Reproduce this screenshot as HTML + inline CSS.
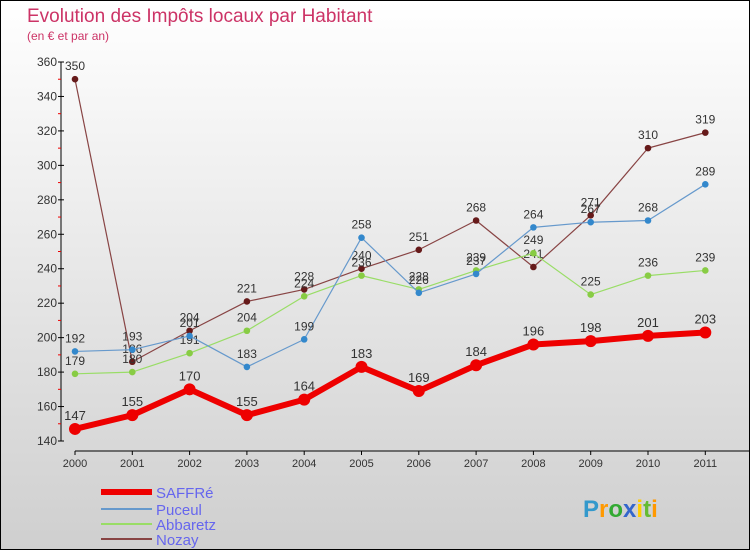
<!DOCTYPE html>
<html><head><meta charset="utf-8"><style>
body{margin:0}
#c{width:748px;height:548px;border:1px solid #000;background:linear-gradient(#ffffff,#cfcfcf);position:relative;overflow:hidden;font-family:"Liberation Sans",sans-serif}
</style></head><body>
<div id="c">
<svg id="s" width="748" height="548"></svg>
</div>
<script>
const years=["2000","2001","2002","2003","2004","2005","2006","2007","2008","2009","2010","2011"];
const saffre=[147,155,170,155,164,183,169,184,196,198,201,203];
const puceul=[192,193,201,183,199,258,226,237,264,267,268,289];
const abbaretz=[179,180,191,204,224,236,228,239,249,225,236,239];
const nozay=[350,186,204,221,228,240,251,268,241,271,310,319];
const yTicks=[140,160,180,200,220,240,260,280,300,320,340,360];
const series=[
 {name:"SAFFRé",data:saffre,color:"#ee0000",w:6,r:6,lab:"#333",fs:13},
 {name:"Puceul",data:puceul,color:"#6699cc",w:1.2,r:3.3,pc:"#3388cc",lab:"#333",fs:12},
 {name:"Abbaretz",data:abbaretz,color:"#99dd66",w:1.2,r:3.3,pc:"#88cc44",lab:"#333",fs:12},
 {name:"Nozay",data:nozay,color:"#884444",w:1.2,r:3.3,pc:"#661a1a",lab:"#333",fs:12}
];
const NS="http://www.w3.org/2000/svg",s=document.getElementById('s');
const X=i=>74+i*57.3, Y=v=>440-(v-140)*(379/220);
function el(t,a,txt){const e=document.createElementNS(NS,t);for(const k in a)e.setAttribute(k,a[k]);if(txt!=null)e.textContent=txt;s.appendChild(e);return e;}
let e;
e=el('text',{x:26,y:21,fill:"#cc3366","font-size":19},"Evolution des Impôts locaux par Habitant");

e=el('text',{x:26,y:39,fill:"#cc3366","font-size":12},"(en € et par an)");

e=el('line',{x1:60,y1:Y(360),x2:60,y2:Y(140),stroke:"#000"});

yTicks.forEach((v,i)=>{
 el('line',{x1:57,x2:63,y1:Y(v),y2:Y(v),stroke:"#000"});
 if(i<yTicks.length-1)el('line',{x1:57,x2:60,y1:Y(v+10),y2:Y(v+10),stroke:"#e00"});
 e=el('text',{x:56,y:Y(v)+4,"text-anchor":"end","font-size":12,fill:"#333"},v);
 
});
e=el('line',{x1:X(0),y1:450,x2:748,y2:450,stroke:"#000"});

years.forEach((y,i)=>{
 el('line',{x1:X(i),x2:X(i),y1:450,y2:454,stroke:"#000"});
 e=el('text',{x:X(i),y:466,"text-anchor":"middle","font-size":11,fill:"#333"},y);
 
});
[...series].reverse().forEach(sr=>{
 e=el('polyline',{points:sr.data.map((v,i)=>X(i)+","+Y(v)).join(" "),fill:"none",stroke:sr.color,"stroke-width":sr.w,"stroke-linejoin":"round"});
 
 sr.data.forEach((v,i)=>{
  e=el('circle',{cx:X(i),cy:Y(v),r:sr.r,fill:sr.pc||sr.color});
  
  e=el('text',{x:X(i),y:Y(v)-9,"text-anchor":"middle","font-size":sr.fs,fill:sr.lab},v);
  
 });
});
series.forEach((sr,i)=>{
 const ly=[491,508,523,538][i];
 e=el('line',{x1:100,x2:151,y1:ly,y2:ly,stroke:sr.color,"stroke-width":sr.w==6?6:2});
 
 e=el('text',{x:155,y:ly+6,"font-size":15,fill:"#6666ee"},sr.name);
 
});
const logo=[["P","#3399cc"],["r","#ff9900"],["o","#33aa33"],["x","#3366cc"],["i","#ffcc00"],["t","#66bb33"],["i","#ff9900"]];
e=el('text',{x:582,y:516,"font-size":24,"font-weight":"bold"});

logo.forEach(([c,col])=>{const t=document.createElementNS(NS,'tspan');t.setAttribute('fill',col);t.textContent=c;e.appendChild(t);});
</script>
</body></html>
